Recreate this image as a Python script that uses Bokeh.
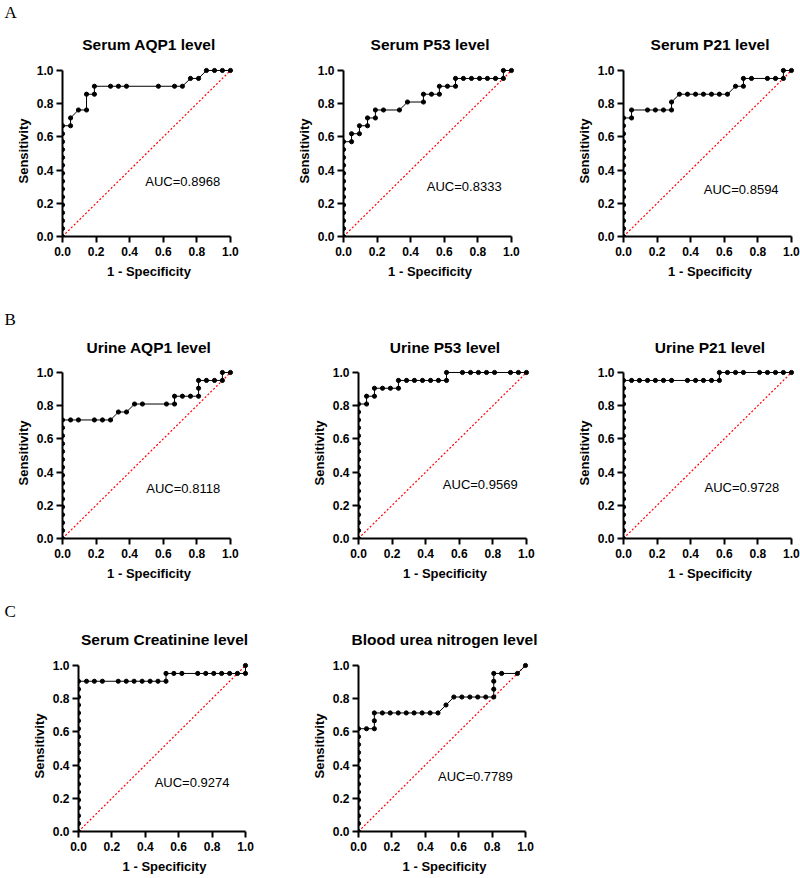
from bokeh.plotting import figure
from bokeh.layouts import column, row
from bokeh.models import Range1d, FixedTicker, PrintfTickFormatter, Label, Title
from bokeh.embed import file_html
from bokeh.resources import INLINE

# ---------------- data ----------------
titles = ["Serum AQP1 level", "Serum P53 level", "Serum P21 level",
          "Urine AQP1 level", "Urine P53 level", "Urine P21 level",
          "Serum Creatinine level", "Blood urea nitrogen level"]
auc_text = ["AUC=0.8968", "AUC=0.8333", "AUC=0.8594",
            "AUC=0.8118", "AUC=0.9569", "AUC=0.9728",
            "AUC=0.9274", "AUC=0.7789"]
auc_pos_x = [0.493, 0.496, 0.478, 0.499, 0.502, 0.482, 0.456, 0.476]
auc_pos_y = [0.334, 0.304, 0.282, 0.301, 0.325, 0.305, 0.294, 0.330]
row_letters = ["A", "B", "C"]
tick_values = [0.0, 0.2, 0.4, 0.6, 0.8, 1.0]
chance_x = [0.0, 1.0]
chance_y = [0.0, 1.0]

fpr_serum_aqp1 = [0, 0, 0, 0, 0, 0, 0, 0, 0, 0, 0, 0, 0, 0, 0,
                  0.048, 0.048, 0.095, 0.143, 0.143, 0.190, 0.190, 0.286, 0.333, 0.381,
                  0.571, 0.667, 0.714, 0.762, 0.810, 0.857, 0.905, 0.952, 1.0]
tpr_serum_aqp1 = [0, 0.048, 0.095, 0.143, 0.190, 0.238, 0.286, 0.333, 0.381, 0.429, 0.476,
                  0.524, 0.571, 0.619, 0.667,
                  0.667, 0.714, 0.762, 0.762, 0.857, 0.857, 0.905, 0.905, 0.905, 0.905,
                  0.905, 0.905, 0.905, 0.952, 0.952, 1.0, 1.0, 1.0, 1.0]

fpr_serum_p53 = [0, 0, 0, 0, 0, 0, 0, 0, 0, 0, 0, 0, 0,
                 0.048, 0.048, 0.095, 0.095, 0.143, 0.143, 0.190, 0.190, 0.238, 0.333,
                 0.381, 0.476, 0.476, 0.524, 0.571, 0.571, 0.619, 0.667, 0.667, 0.714,
                 0.762, 0.810, 0.857, 0.905, 0.952, 0.952, 1.0]
tpr_serum_p53 = [0, 0.048, 0.095, 0.143, 0.190, 0.238, 0.286, 0.333, 0.381, 0.429, 0.476,
                 0.524, 0.571,
                 0.571, 0.619, 0.619, 0.667, 0.667, 0.714, 0.714, 0.762, 0.762, 0.762,
                 0.810, 0.810, 0.857, 0.857, 0.857, 0.905, 0.905, 0.905, 0.952, 0.952,
                 0.952, 0.952, 0.952, 0.952, 0.952, 1.0, 1.0]

fpr_serum_p21 = [0, 0, 0, 0, 0, 0, 0, 0, 0, 0, 0, 0, 0, 0, 0, 0,
                 0.048, 0.048, 0.143, 0.190, 0.238, 0.286, 0.286, 0.333, 0.381, 0.429,
                 0.476, 0.524, 0.571, 0.619, 0.667, 0.714, 0.714, 0.762, 0.857, 0.905,
                 0.952, 0.952, 1.0]
tpr_serum_p21 = [0, 0.048, 0.095, 0.143, 0.190, 0.238, 0.286, 0.333, 0.381, 0.429, 0.476,
                 0.524, 0.571, 0.619, 0.667, 0.714,
                 0.714, 0.762, 0.762, 0.762, 0.762, 0.762, 0.810, 0.857, 0.857, 0.857,
                 0.857, 0.857, 0.857, 0.857, 0.905, 0.905, 0.952, 0.952, 0.952, 0.952,
                 0.952, 1.0, 1.0]

fpr_urine_aqp1 = [0, 0, 0, 0, 0, 0, 0, 0, 0, 0, 0, 0, 0, 0, 0, 0,
                  0.048, 0.095, 0.190, 0.238, 0.286, 0.333, 0.381, 0.429, 0.476, 0.619,
                  0.667, 0.667, 0.714, 0.762, 0.810, 0.810, 0.810, 0.857, 0.905, 0.952,
                  0.952, 1.0]
tpr_urine_aqp1 = [0, 0.048, 0.095, 0.143, 0.190, 0.238, 0.286, 0.333, 0.381, 0.429, 0.476,
                  0.524, 0.571, 0.619, 0.667, 0.714,
                  0.714, 0.714, 0.714, 0.714, 0.714, 0.762, 0.762, 0.810, 0.810, 0.810,
                  0.810, 0.857, 0.857, 0.857, 0.857, 0.905, 0.952, 0.952, 0.952, 0.952,
                  1.0, 1.0]

fpr_urine_p53 = [0, 0, 0, 0, 0, 0, 0, 0, 0, 0, 0, 0, 0, 0, 0, 0, 0, 0,
                 0.048, 0.048, 0.095, 0.095, 0.143, 0.190, 0.238, 0.238, 0.286, 0.333,
                 0.381, 0.429, 0.476, 0.524, 0.524, 0.619, 0.667, 0.714, 0.762, 0.810,
                 0.905, 0.952, 1.0]
tpr_urine_p53 = [0, 0.048, 0.095, 0.143, 0.190, 0.238, 0.286, 0.333, 0.381, 0.429, 0.476,
                 0.524, 0.571, 0.619, 0.667, 0.714, 0.762, 0.810,
                 0.810, 0.857, 0.857, 0.905, 0.905, 0.905, 0.905, 0.952, 0.952, 0.952,
                 0.952, 0.952, 0.952, 0.952, 1.0, 1.0, 1.0, 1.0, 1.0, 1.0,
                 1.0, 1.0, 1.0]

fpr_urine_p21 = [0, 0, 0, 0, 0, 0, 0, 0, 0, 0, 0, 0, 0, 0, 0, 0, 0, 0, 0, 0, 0,
                 0.048, 0.095, 0.143, 0.190, 0.238, 0.286, 0.381, 0.429, 0.476, 0.524,
                 0.571, 0.571, 0.619, 0.667, 0.714, 0.810, 0.857, 0.905, 0.952, 1.0]
tpr_urine_p21 = [0, 0.048, 0.095, 0.143, 0.190, 0.238, 0.286, 0.333, 0.381, 0.429, 0.476,
                 0.524, 0.571, 0.619, 0.667, 0.714, 0.762, 0.810, 0.857, 0.905, 0.952,
                 0.952, 0.952, 0.952, 0.952, 0.952, 0.952, 0.952, 0.952, 0.952, 0.952,
                 0.952, 1.0, 1.0, 1.0, 1.0, 1.0, 1.0, 1.0, 1.0, 1.0]

fpr_creatinine = [0, 0, 0, 0, 0, 0, 0, 0, 0, 0, 0, 0, 0, 0, 0, 0, 0, 0, 0, 0,
                  0.048, 0.095, 0.143, 0.238, 0.286, 0.333, 0.381, 0.429, 0.476, 0.524,
                  0.524, 0.571, 0.619, 0.714, 0.762, 0.810, 0.857, 0.905, 0.952, 1.0, 1.0]
tpr_creatinine = [0, 0.048, 0.095, 0.143, 0.190, 0.238, 0.286, 0.333, 0.381, 0.429, 0.476,
                  0.524, 0.571, 0.619, 0.667, 0.714, 0.762, 0.810, 0.857, 0.905,
                  0.905, 0.905, 0.905, 0.905, 0.905, 0.905, 0.905, 0.905, 0.905, 0.905,
                  0.952, 0.952, 0.952, 0.952, 0.952, 0.952, 0.952, 0.952, 0.952, 0.952, 1.0]

fpr_bun = [0, 0, 0, 0, 0, 0, 0, 0, 0, 0, 0, 0, 0, 0,
           0.048, 0.095, 0.095, 0.095, 0.143, 0.190, 0.238, 0.286, 0.333, 0.381, 0.429,
           0.476, 0.524, 0.571, 0.619, 0.667, 0.714, 0.762, 0.810, 0.810, 0.810, 0.810,
           0.857, 0.952, 1.0]
tpr_bun = [0, 0.048, 0.095, 0.143, 0.190, 0.238, 0.286, 0.333, 0.381, 0.429, 0.476,
           0.524, 0.571, 0.619,
           0.619, 0.619, 0.667, 0.714, 0.714, 0.714, 0.714, 0.714, 0.714, 0.714, 0.714,
           0.714, 0.762, 0.810, 0.810, 0.810, 0.810, 0.810, 0.810, 0.857, 0.905, 0.952,
           0.952, 0.952, 1.0]

curves_fpr = [fpr_serum_aqp1, fpr_serum_p53, fpr_serum_p21,
              fpr_urine_aqp1, fpr_urine_p53, fpr_urine_p21,
              fpr_creatinine, fpr_bun]
curves_tpr = [tpr_serum_aqp1, tpr_serum_p53, tpr_serum_p21,
              tpr_urine_aqp1, tpr_urine_p53, tpr_urine_p21,
              tpr_creatinine, tpr_bun]

# ---------------- styling / layout ----------------
FONT = "Liberation Sans"
RANGE_END = 1.03   # small headroom so the markers at 1.0 are not clipped

# (width, height, left, right, top, bottom, title standoff, letter standoff)
geom = [
    (290, 292, 62, 55, 65, 56, 26, -3),
    (272, 292, 53, 46, 65, 56, 26, None),
    (238, 292, 61, 4, 65, 56, 26, None),
    (290, 300, 62, 55, 75, 54, 24, -9),
    (272, 300, 68, 31, 75, 54, 24, None),
    (238, 300, 61, 4, 75, 54, 24, None),
    (290, 285, 78, 40, 68, 46, 26, -10),
    (272, 285, 68, 32, 68, 46, 26, None),
]


def style_title(t, text, standoff):
    t.text = text
    t.align = "center"
    t.text_font = FONT
    t.text_font_size = "15.5px"
    t.text_font_style = "bold"
    t.text_color = "black"
    t.standoff = standoff


def make_panel(i, letter=None):
    w, h, bl, br, bt, bb, ts, ls = geom[i]
    p = figure(width=w, height=h, output_backend="svg", toolbar_location=None, tools="",
               x_range=Range1d(0, RANGE_END), y_range=Range1d(0, RANGE_END),
               min_border_left=bl, min_border_right=br,
               min_border_top=bt, min_border_bottom=bb,
               x_axis_label="1 - Specificity", y_axis_label="Sensitivity",
               background_fill_color="white", border_fill_color="white")
    p.outline_line_color = None
    p.grid.visible = False

    if letter is None:
        style_title(p.title, titles[i], ts)
    else:
        main = Title(text="")
        style_title(main, titles[i], ts)
        p.add_layout(main, "above")
        p.title.text = letter
        p.title.align = "left"
        p.title.offset = -bl + 4
        p.title.text_font = "Liberation Serif"
        p.title.text_font_size = "17px"
        p.title.text_font_style = "normal"
        p.title.text_color = "black"
        p.title.standoff = ls

    for ax in (p.xaxis[0], p.yaxis[0]):
        ax.ticker = FixedTicker(ticks=tick_values)
        ax.formatter = PrintfTickFormatter(format="%.1f")
        ax.bounds = (0, 1)
        ax.axis_line_width = 2
        ax.axis_line_color = "black"
        ax.major_tick_line_width = 2
        ax.major_tick_line_color = "black"
        ax.major_tick_out = 6
        ax.major_tick_in = 0
        ax.minor_tick_line_color = None
        ax.major_label_text_font = FONT
        ax.major_label_text_font_size = "12px"
        ax.major_label_text_font_style = "bold"
        ax.major_label_text_color = "black"
        ax.axis_label_text_font = FONT
        ax.axis_label_text_font_size = "13px"
        ax.axis_label_text_font_style = "bold"
        ax.axis_label_text_color = "black"
    p.xaxis.major_label_standoff = 4
    p.xaxis.axis_label_standoff = 5
    p.yaxis.major_label_standoff = 3
    p.yaxis.axis_label_standoff = 3

    p.line(chance_x, chance_y, line_color="red", line_width=1.2, line_dash="2 2")
    p.line(curves_fpr[i], curves_tpr[i], line_color="black", line_width=1)
    p.scatter(curves_fpr[i], curves_tpr[i], size=4.2, fill_color="black", line_color="black")

    p.add_layout(Label(x=auc_pos_x[i], y=auc_pos_y[i], text=auc_text[i],
                       text_font=FONT, text_font_size="13px", text_color="black",
                       text_align="left", text_baseline="middle"))
    return p


panels = [make_panel(i, row_letters[i // 3] if i % 3 == 0 else None) for i in range(8)]

layout = column(row(panels[0], panels[1], panels[2], spacing=0),
                row(panels[3], panels[4], panels[5], spacing=0),
                row(panels[6], panels[7], spacing=0), spacing=0)

open("out.html", "w").write(file_html(layout, INLINE))
